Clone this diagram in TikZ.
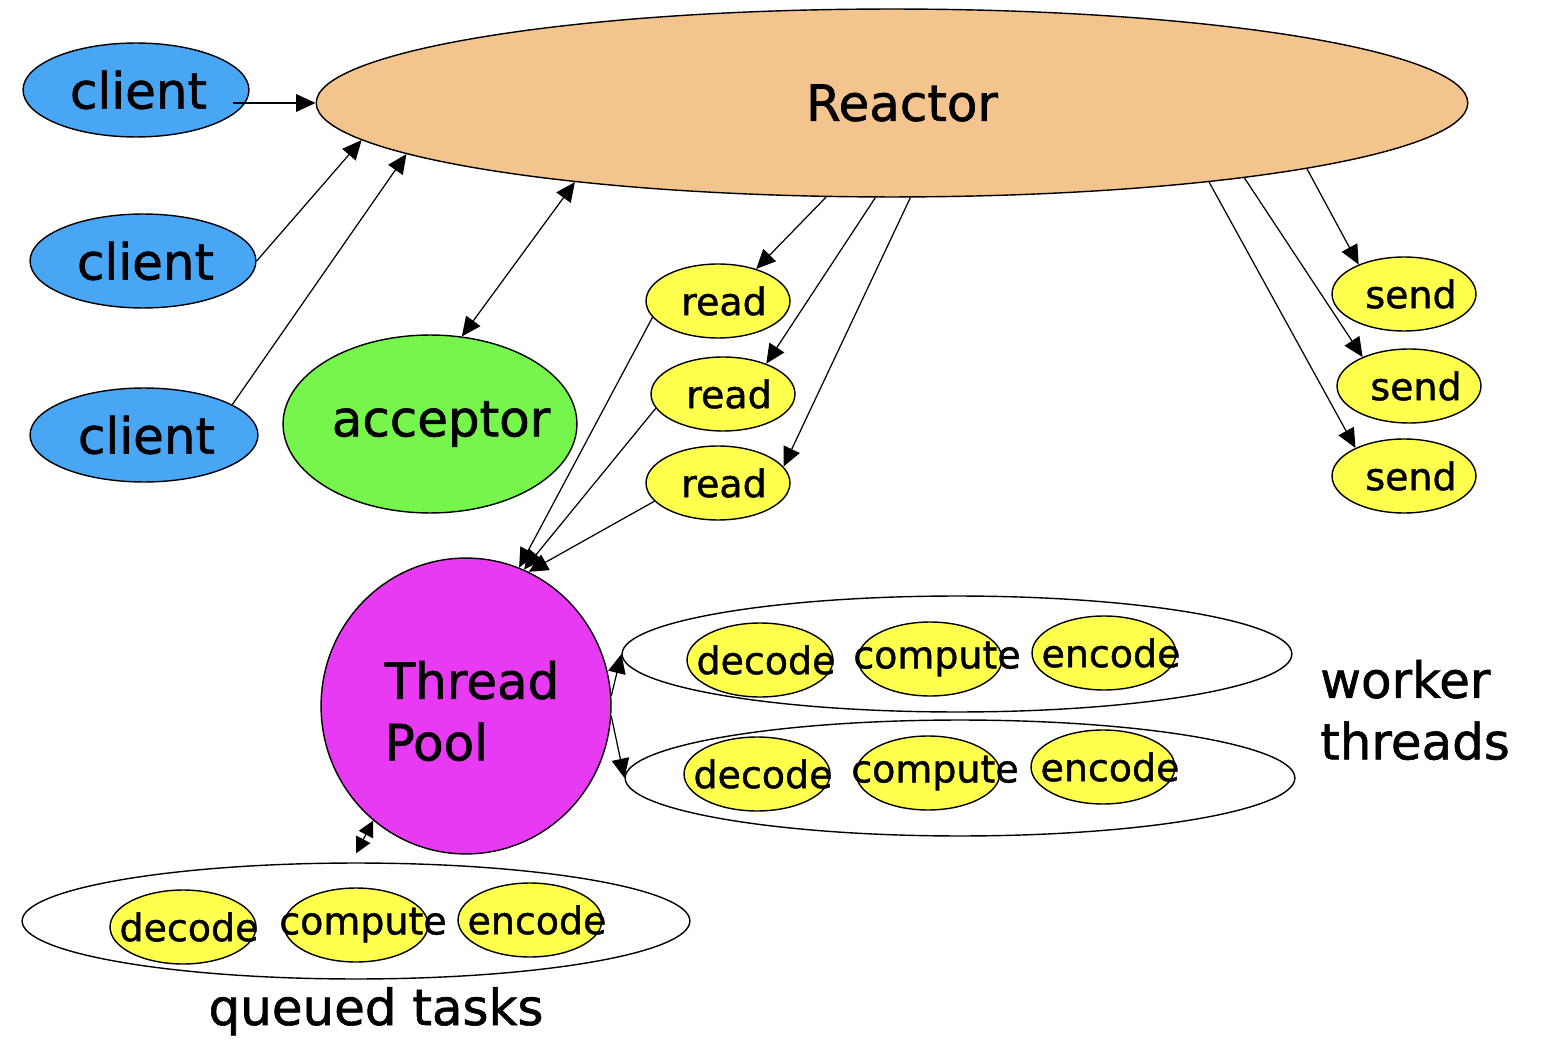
\documentclass[tikz,border=0pt]{standalone}
\usepackage{fontspec}
\setmainfont{DejaVu Sans}[FakeBold=1.2]
\usetikzlibrary{shapes.geometric,arrows.meta}
\definecolor{cblue}{RGB}{72,166,245}
\definecolor{corange}{RGB}{244,196,142}
\definecolor{cgreen}{RGB}{118,246,76}
\definecolor{cyellow}{RGB}{255,255,77}
\definecolor{cpink}{RGB}{232,58,242}
\begin{document}
\begin{tikzpicture}[x=0.02cm,y=-0.02cm,
  shp/.style={ellipse,draw=black,line width=0.8pt,inner sep=0pt},
  sz/.style 2 args={minimum width=#1*0.04cm,minimum height=#2*0.04cm},
  big/.style={font=\fontsize{28.4}{35}\selectfont},
  small/.style={font=\fontsize{21.6}{25}\selectfont},
  ylw/.style={shp,fill=cyellow,sz={72}{37}},
  arr/.style={-{Triangle[length=11pt,width=10pt]},line width=0.7pt},
  darr/.style={{Triangle[length=9pt,width=9pt]}-{Triangle[length=9pt,width=9pt]},line width=0.7pt}]
\useasboundingbox (0,0) rectangle (1568,1060);

% container ellipses
\node[shp,sz={335}{58}] (w1) at (957,654) {};
\node[shp,sz={335}{58}] (w2) at (960,778) {};
\node[shp,sz={334}{58}] (q) at (356,921) {};

% clients
\node[shp,fill=cblue,sz={113}{47},label={[big,xshift=0.05cm]center:client}] (c1) at (136,90) {};
\node[shp,fill=cblue,sz={113}{47},label={[big,xshift=0.05cm]center:client}] (c2) at (143,261) {};
\node[shp,fill=cblue,sz={114}{47},label={[big,xshift=0.05cm]center:client}] (c3) at (144,435) {};

% reactor, acceptor
\node[shp,fill=corange,sz={576}{94},label={[big,xshift=0.2cm]center:Reactor}] (reactor) at (892,103) {};
\node[shp,fill=cgreen,sz={147}{89},label={[big,xshift=0.22cm]center:acceptor}] (acc) at (430,424) {};

% reads and sends
\node[ylw,label={[small,xshift=0.12cm]center:read}] (r1) at (718,301) {};
\node[ylw,label={[small,xshift=0.12cm]center:read}] (r2) at (723,394) {};
\node[ylw,label={[small,xshift=0.12cm]center:read}] (r3) at (718,483) {};
\node[ylw,label={[small,xshift=0.14cm]center:send}] (s1) at (1404,294) {};
\node[ylw,label={[small,xshift=0.14cm]center:send}] (s2) at (1409,386) {};
\node[ylw,label={[small,xshift=0.14cm]center:send}] (s3) at (1404,476) {};

% thread pool
\node[shp,fill=cpink,sz={145}{148},label={[big,align=left,xshift=0.12cm,yshift=-0.1cm]center:Thread\\Pool}] (tp) at (466,706) {};

% worker tasks
\node[ylw,sz={73}{37},label={[small,xshift=0.12cm]center:decode}] (d1) at (760,660) {};
\node[ylw,label={[small,xshift=0.14cm]center:compute}] (cp1) at (930,659) {};
\node[ylw,label={[small,xshift=0.14cm]center:encode}] (e1) at (1104,653) {};
\node[ylw,sz={73}{37},label={[small,xshift=0.12cm]center:decode}] (d2) at (757,774) {};
\node[ylw,label={[small,xshift=0.14cm]center:compute}] (cp2) at (928,773) {};
\node[ylw,label={[small,xshift=0.14cm]center:encode}] (e2) at (1103,767) {};
\node[ylw,sz={73}{37},label={[small,xshift=0.12cm]center:decode}] (d3) at (183,927) {};
\node[ylw,label={[small,xshift=0.14cm]center:compute}] (cp3) at (356,925) {};
\node[ylw,label={[small,xshift=0.14cm]center:encode}] (e3) at (530,920) {};

% free texts
\node[big,align=left] (wt) at (1415,710) {worker\\threads};
\node[big,anchor=base] (qt) at (376,1025) {queued tasks};

% connectors
\draw[arr] ([shift={(97,13)}]c1.center) -- (reactor.west);
\draw[arr] (c2.east) -- (reactor.184);
\draw[arr] (c3.19) -- (reactor.186);
\draw[{Triangle[length=11pt,width=10pt]}-{Triangle[length=11pt,width=10pt]},line width=0.7pt] (acc.70) -- (reactor.194);
\draw[arr] (reactor.235) -- (r1.40);
\draw[arr] (reactor.260) -- (r2.35);
\draw[arr] (reactor.281) -- (r3.14);
\draw[arr] (reactor.-9) -- (s1.147);
\draw[arr] (reactor.-12) -- (s2.148);
\draw[arr] (reactor.-14) -- (s3.150);
\draw[arr] (r1.194) -- (tp.69);
\draw[arr] (r2.192) -- (tp.67);
\draw[arr] (r3.196) -- (tp.65);
\draw[arr] (tp.4) -- (w1.west);
\draw[arr] (tp.-4) -- (w2.west);
\draw[darr] (tp.231) -- ([yshift=0.18cm]q.north);
\end{tikzpicture}
\end{document}
